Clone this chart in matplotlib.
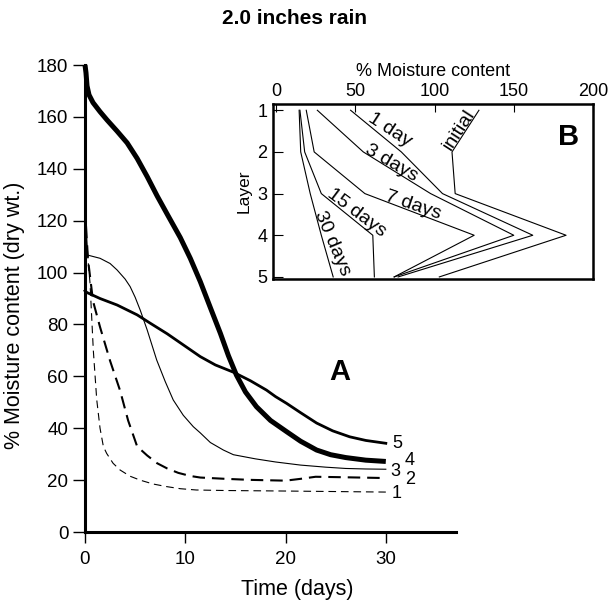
import matplotlib
matplotlib.use("Agg")
import matplotlib.pyplot as plt

plt.rcParams['font.family'] = ['Liberation Sans', 'DejaVu Sans']
plt.rcParams['lines.scale_dashes'] = False

# Panel A: moisture content over time, one curve per layer
days_1 = [0.1, 0.3, 0.5, 0.83, 1.17, 1.5, 1.83, 2.16, 2.8, 3.5, 4.5, 5.5, 6.8, 8.15, 9.5, 11.1, 14, 20, 25, 30]
layer_1 = [118, 105, 96, 70, 51, 40, 33, 30.3, 26.5, 23.9, 21.5, 20, 18.5, 17.5, 16.7, 16.2, 16, 15.8, 15.6, 15.4]

days_2 = [0.1, 0.3, 0.8, 1.5, 2.5, 3.5, 4.3, 5.2, 6.2, 7.2, 8.2, 9.3, 10.5, 11.5, 14, 16.5, 20, 21.5, 23, 26, 30]
layer_2 = [118, 105, 89, 79, 66, 54.5, 43, 33, 29.5, 26.5, 24.5, 22.8, 21.6, 21, 20.5, 20.1, 19.8, 20.5, 21.3, 21.1, 20.8]

days_3 = [0, 1.5, 2.5, 3.2, 4, 4.5, 5, 5.5, 6.2, 7.15, 8, 8.8, 9.8, 10.8, 11.5, 12.5, 13.8, 14.8, 17, 19, 21.5, 24, 26, 28, 30]
layer_3 = [107, 105.5, 103.5, 101, 97.5, 94.6, 90.5, 85.6, 77.9, 66.3, 58, 50.9, 45, 40.6, 38.2, 34.5, 31.6, 29.8, 28.2, 27, 25.8, 25, 24.5, 24.3, 24.2]

days_4 = [0, 0.1, 0.2, 0.4, 0.8, 1.5, 2.2, 3.2, 4.2, 5.2, 6.2, 7.2, 8.3, 9.5, 10.5, 11.5, 12.5, 13.5, 14.3, 15.1,
          16, 17.1, 18.5, 20.1, 21.5, 23.1, 24.5, 26, 28, 30]
layer_4 = [180, 177, 172, 168.5, 165.5, 162, 158.8, 154.5, 150, 144, 137, 129.5, 121.8, 113.5, 105.5, 96.5, 86.5, 76.6, 68, 60.5,
           54, 48.3, 43, 38.7, 35, 31.6, 29.8, 28.7, 27.7, 27.2]

days_5 = [0, 0.2, 1.5, 3.2, 5.2, 6.5, 8.2, 10, 11.5, 13, 14.8, 16.5, 18.1, 19, 20.1, 21.5, 23.1, 24.7, 26.4, 28, 30]
layer_5 = [93, 92.3, 90, 87.5, 83.7, 80.5, 76.4, 71.6, 67.6, 64.4, 61.6, 58.3, 54.7, 52.2, 49.6, 46, 42, 39, 36.7, 35.3, 34.2]

curve_labels = ['1', '2', '3', '4', '5']
label_x = [31.1, 32.4, 31.0, 32.4, 31.1]
label_y = [14.9, 20.1, 23.2, 27.6, 34.2]

# Panel B: moisture profile by layer
layers = [1, 2, 3, 4, 5]
profile_names = ['initial', '1 day', '3 days', '7 days', '15 days', '30 days']
profile_values = {
    'initial': [128, 111, 113, 183, 103],
    '1 day': [47, 79, 105, 162, 77],
    '3 days': [26, 55, 97.5, 150, 74.5],
    '7 days': [19, 24, 56, 125, 74.5],
    '15 days': [15, 18, 28.5, 61, 62],
    '30 days': [14.5, 15.5, 21.5, 28.5, 36],
}
profile_text_x = [115.6, 71.8, 72.9, 86.6, 50.8, 35.6]
profile_text_y = [1.47, 1.47, 2.27, 3.29, 3.46, 4.2]
profile_text_rot = [57, -33, -30, -19, -37, -67]

fig = plt.figure(figsize=(6.08, 6.03), dpi=100)

ax = fig.add_axes([0.1398, 0.1177, 0.6102, 0.7745])
ax.plot(days_1, layer_1, color='black', lw=0.8, dashes=(5.5, 3.5), clip_on=False)
ax.plot(days_2, layer_2, color='black', lw=1.5, dashes=(9, 5), clip_on=False)
ax.plot(days_3, layer_3, color='black', lw=0.8, clip_on=False)
ax.plot(days_4, layer_4, color='black', lw=3.6, clip_on=False, solid_capstyle='butt')
ax.plot(days_5, layer_5, color='black', lw=2.0, clip_on=False)

for lab, x, y in zip(curve_labels, label_x, label_y):
    ax.text(x, y, lab, fontsize=13, ha='center', va='center')
ax.text(25.4, 61.8, 'A', fontsize=21, fontweight='bold', ha='center', va='center')

ax.set_xlim(0, 37)
ax.set_ylim(0, 180)
ax.set_xticks([0, 10, 20, 30])
ax.set_yticks(range(0, 181, 20))
for side in ['top', 'right']:
    ax.spines[side].set_visible(False)
for side in ['left', 'bottom']:
    ax.spines[side].set_linewidth(2.2)
ax.tick_params(axis='both', direction='out', labelsize=13.5, width=1.0)
ax.tick_params(axis='y', length=8.5, pad=3.5)
ax.tick_params(axis='x', length=8, pad=6)

fig.text(15 / 608, 1 - 315 / 603, '% Moisture content (dry wt.)', rotation=90,
         fontsize=15.5, ha='center', va='center')
fig.text(297 / 608, 1 - 590 / 603, 'Time (days)', fontsize=15.5, ha='center', va='center')
fig.text(294 / 608, 1 - 18 / 603, '2.0 inches rain', fontsize=15, fontweight='bold',
         ha='center', va='center')

# inset B
ax2 = fig.add_axes([0.449, 0.5373, 0.5263, 0.2902])
for name in profile_names:
    ax2.plot(profile_values[name], layers, color='black', lw=0.8)
for name, x, y, r in zip(profile_names, profile_text_x, profile_text_y, profile_text_rot):
    ax2.text(x, y, name, fontsize=14, rotation=r, rotation_mode='anchor',
             ha='center', va='center')
ax2.text(184.4, 1.63, 'B', fontsize=21, fontweight='bold', ha='center', va='center')

ax2.set_xlim(-2, 200)
ax2.set_ylim(5.05, 0.85)
ax2.set_xticks([0, 50, 100, 150, 200])
ax2.set_yticks(layers)
ax2.xaxis.tick_top()
ax2.xaxis.set_label_position('top')
ax2.set_xlabel('% Moisture content', fontsize=13, labelpad=5)
ax2.set_ylabel('Layer', fontsize=12.5, labelpad=4)
ax2.tick_params(axis='both', direction='in', labelsize=13, width=0.8)
ax2.tick_params(axis='x', length=6, pad=3)
ax2.tick_params(axis='y', length=7, pad=4)
for s in ax2.spines.values():
    s.set_linewidth(1.8)

fig.savefig('out.png', dpi=100)
